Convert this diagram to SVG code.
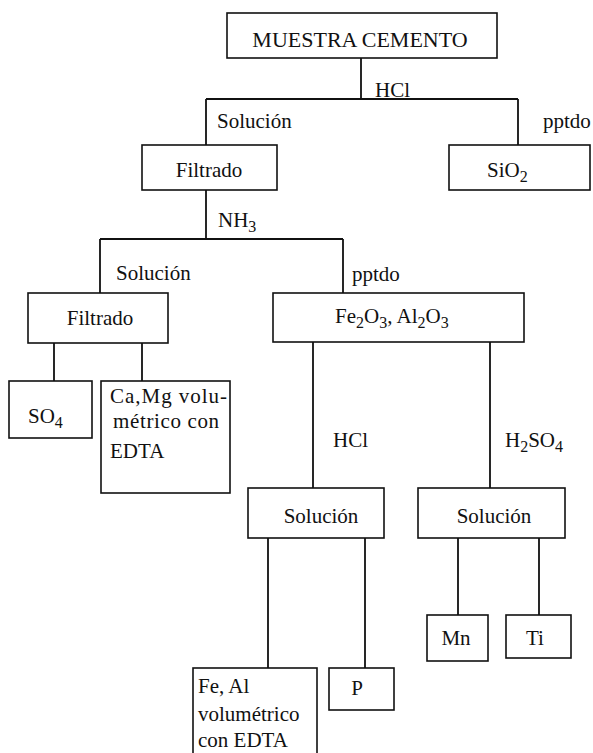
<svg xmlns="http://www.w3.org/2000/svg" width="593" height="753" viewBox="0 0 593 753">
<style>
.box{fill:#fff;stroke:#111;stroke-width:1.6}
.ln{fill:none;stroke:#111;stroke-width:1.8}
text{font-family:"Liberation Serif","Times New Roman",serif;font-size:21px;fill:#111}
.big{font-size:22px}
.sub{font-size:16px}
.c{text-anchor:middle}
</style>
<rect width="593" height="753" fill="#fff"/>
<g id="connectors">
<path class="ln" d="M361 58V99M206 99H518M206 99V145M518 99V145"/>
<path class="ln" d="M206 190V239M100 239H343M100 239V293M343 239V293"/>
<path class="ln" d="M54 343V381M142 343V381"/>
<path class="ln" d="M313 342V488M490 342V488"/>
<path class="ln" d="M268 538V668M365 538V668M458 538V615M539 538V615"/>
<text x="375" y="97">HCl</text>
<text x="217" y="128">Solución</text>
<text x="543" y="128">pptdo</text>
<text x="218" y="227">NH<tspan class="sub" dy="5">3</tspan></text>
<text x="116" y="280">Solución</text>
<text x="352" y="281">pptdo</text>
<text x="333" y="447">HCl</text>
<text x="505" y="447">H<tspan class="sub" dy="5">2</tspan><tspan dy="-5">SO</tspan><tspan class="sub" dy="5">4</tspan></text>
</g>
<g id="muestra"><rect class="box" x="227" y="13" width="270" height="45"/><text class="big c" x="360" y="47">MUESTRA CEMENTO</text></g>
<g id="filtrado1"><rect class="box" x="142" y="145" width="135" height="45"/><text class="c" x="209" y="177">Filtrado</text></g>
<g id="sio2"><rect class="box" x="449" y="145" width="141" height="45"/><text x="487" y="177">SiO<tspan class="sub" dy="5">2</tspan></text></g>
<g id="filtrado2"><rect class="box" x="28" y="293" width="140" height="50"/><text class="c" x="100" y="325">Filtrado</text></g>
<g id="fe2o3"><rect class="box" x="273" y="293" width="251" height="49"/><text x="335" y="323">Fe<tspan class="sub" dy="5">2</tspan><tspan dy="-5">O</tspan><tspan class="sub" dy="5">3</tspan><tspan dy="-5">, Al</tspan><tspan class="sub" dy="5">2</tspan><tspan dy="-5">O</tspan><tspan class="sub" dy="5">3</tspan></text></g>
<g id="so4"><rect class="box" x="9" y="381" width="83" height="57"/><text x="28" y="423">SO<tspan class="sub" dy="5">4</tspan></text></g>
<g id="camg"><rect class="box" x="101" y="381" width="129" height="112"/><text x="110" y="403" textLength="117">Ca,Mg volu-</text><text x="113" y="428" textLength="106">métrico con</text><text x="110" y="458">EDTA</text></g>
<g id="solucion1"><rect class="box" x="248" y="488" width="136" height="50"/><text class="c" x="321" y="523">Solución</text></g>
<g id="solucion2"><rect class="box" x="418" y="488" width="147" height="50"/><text class="c" x="494" y="523">Solución</text></g>
<g id="mn"><rect class="box" x="427" y="615" width="61" height="46"/><text class="c" x="456" y="645">Mn</text></g>
<g id="ti"><rect class="box" x="506" y="615" width="65" height="43"/><text class="c" x="535" y="645">Ti</text></g>
<g id="feal"><rect class="box" x="193" y="668" width="124" height="95"/><text x="198" y="693">Fe, Al</text><text x="198" y="721">volumétrico</text><text x="198" y="747">con EDTA</text></g>
<g id="p"><rect class="box" x="329" y="668" width="65" height="42"/><text class="c" x="357" y="695">P</text></g>
</svg>
